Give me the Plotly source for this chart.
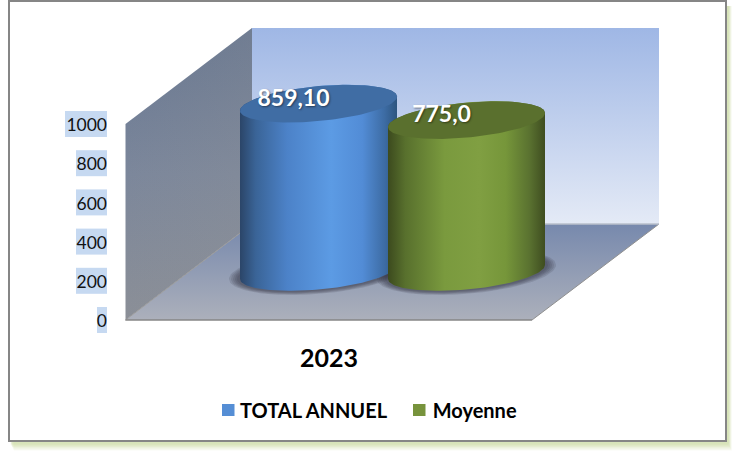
import numpy as np
import plotly.graph_objects as go

# ---- data ----
series_names = ["TOTAL ANNUEL", "Moyenne"]
series_values = [859.10, 775.0]
value_labels = ["859,10", "775,0"]
category_labels = ["2023"]
value_ticks = [0, 200, 400, 600, 800, 1000]

# ---- styles / projection ----
W, H = 735, 459
Y0_PX, PX_PER_UNIT = 320.0, 0.196
FONT = "Lato"


def v(px):
    """pixel row -> value axis units"""
    return (Y0_PX - px) / PX_PER_UNIT


def dv(px):
    return px / PX_PER_UNIT


RX, RY, TILT = 78.5, 17.5, 7.0
BASE = dv(48)  # front-plane lift of the cylinder base centre
centers = [318.5, 466.5]
side_stops = [
    [[0, "#2b4568"], [0.10, "#3a6497"], [0.30, "#4c82c8"], [0.58, "#5c9be4"],
     [0.78, "#528cd6"], [0.92, "#3d6ca4"], [1, "#2d5580"]],
    [[0, "#3c4a1e"], [0.11, "#58702d"], [0.36, "#7a9a3e"], [0.58, "#809f42"],
     [0.75, "#76963a"], [0.90, "#5a7230"], [1, "#3f4d20"]],
]
top_colors = ["#406da4", "#5a702e"]
legend_colors = ["#558ed5", "#77933c"]
swatch_left = [222, 413]

fig = go.Figure()


def poly(xs, ys, grad=None, color=None):
    kw = dict(x=list(xs), y=list(ys), mode="lines", line=dict(width=0), fill="toself",
              hoverinfo="skip", showlegend=False)
    if grad is not None:
        kw["fillgradient"] = grad
    else:
        kw["fillcolor"] = color
    fig.add_trace(go.Scatter(**kw))


def ellipse_pts(cx, cy, rx, ry, tilt, t):
    return cx + rx * np.cos(t), cy + dv(ry) * np.sin(t) + dv(tilt) * np.cos(t)


# back wall
poly([252, 659, 659, 252], [v(28), v(28), v(224), v(224)],
     grad=dict(type="vertical", colorscale=[[0, "#e4eaf6"], [1, "#9fb7e5"]], start=v(224), stop=v(28)))
# left wall
poly([125.5, 252, 252, 125.5], [v(124), v(28), v(224), v(320)],
     grad=dict(type="vertical", colorscale=[[0, "#8b8f97"], [0.5, "#7c879b"], [1, "#667691"]], start=v(320), stop=v(28)))
poly([125.5, 252, 252, 125.5], [v(124), v(28), v(224), v(320)],
     grad=dict(type="horizontal", colorscale=[[0, "rgba(150,150,150,0)"], [1, "rgba(150,150,150,0.22)"]], start=125.5, stop=252))
# floor
poly([125.5, 532, 659, 252], [v(320), v(320), v(224), v(224)],
     grad=dict(type="vertical", colorscale=[[0, "#acb0bb"], [1, "#7789ad"]], start=v(320), stop=v(224)))
for xs, ys, c, w in [
    ([125.5, 252], [v(320), v(224)], "#9a9a9a", 1),
    ([532, 659], [v(320), v(224)], "#8f8f8f", 1),
    ([125.5, 532], [v(320), v(320)], "#868686", 1.5),
    ([252, 659], [v(224), v(224)], "#b9bfcb", 1.5),
]:
    fig.add_trace(go.Scatter(x=xs, y=ys, mode="lines", line=dict(color=c, width=w),
                             hoverinfo="skip", showlegend=False))

t_full = np.linspace(0, 2 * np.pi, 121)
# soft base shadows
for cx in centers:
    for grow in [11, 9, 7, 5, 3]:
        ex, ey = ellipse_pts(cx, BASE, RX + grow, RY + grow * 0.4, TILT, t_full)
        poly(ex, ey, color="rgba(40,45,60,0.14)")

# cylinders
for cx, val, stops, top in zip(centers, series_values, side_stops, top_colors):
    cy = BASE + val
    t_lower = np.linspace(np.pi, 2 * np.pi, 81)
    bx, by = ellipse_pts(cx, BASE, RX, RY, TILT, t_lower)
    t_upper = np.linspace(0, np.pi, 81)
    ux, uy = ellipse_pts(cx, cy, RX, RY, TILT, t_upper)
    poly(np.r_[bx, ux], np.r_[by, uy],
         grad=dict(type="horizontal", colorscale=stops, start=cx - RX, stop=cx + RX))
    ex, ey = ellipse_pts(cx, cy, RX, RY, TILT, t_full)
    poly(ex, ey, color=top)

# value labels
for cx, val, lab in zip(centers, series_values, value_labels):
    fig.add_trace(go.Scatter(
        x=[cx - 25], y=[BASE + val + dv(3.5)], mode="text", text=[lab], textposition="middle center",
        textfont=dict(family=FONT, size=23, color="white", weight="bold", shadow="1px 1px 2px rgba(0,0,0,0.45)"),
        hoverinfo="skip", showlegend=False))

# legend entries (swatches drawn tight to the text below)
for name in series_names:
    fig.add_trace(go.Scatter(x=[None], y=[None], mode="markers", name=name,
                             marker=dict(symbol="square", size=12, color="rgba(0,0,0,0)")))

shapes = []
# frame shadow
for i, a in enumerate([0.1, 0.14, 0.18, 0.22, 0.27, 0.32]):
    g = 8 - i
    shapes.append(dict(type="rect", xref="paper", yref="paper", layer="below",
                       x0=(9 + g * 0.6) / W, x1=(727 + g * 0.6) / W,
                       y0=1 - (441 + g * 1.2) / H, y1=1 - 6 / H,
                       line=dict(width=0), fillcolor=f"rgba(205,220,165,{a})"))
shapes.append(dict(type="rect", xref="paper", yref="paper", layer="below",
                   x0=9 / W, x1=726 / W, y0=1 - 441 / H, y1=1 - 1 / H,
                   fillcolor="white", line=dict(color="#868686", width=2)))
# highlighted tick labels
for tick, lab_w in zip(value_ticks, [10, 31, 31, 31, 31, 42]):
    shapes.append(dict(type="rect", xref="x", yref="y", layer="below",
                       x0=107 - lab_w, x1=107, y0=tick - dv(13), y1=tick + dv(13),
                       fillcolor="#c6d9f1", line=dict(width=0)))
# legend swatches
for left, col in zip(swatch_left, legend_colors):
    shapes.append(dict(type="rect", xref="paper", yref="paper", layer="above",
                       x0=left / W, x1=(left + 12.5) / W, y0=1 - 416 / H, y1=1 - 404 / H,
                       fillcolor=col, line=dict(width=0)))

fig.update_layout(
    width=W, height=H, autosize=False,
    margin=dict(l=0, r=0, t=0, b=0),
    paper_bgcolor="white", plot_bgcolor="rgba(0,0,0,0)",
    font=dict(family=FONT, color="#111111"),
    shapes=shapes,
    xaxis=dict(range=[0, W], anchor="free", position=1 - Y0_PX / H, tickvals=[329],
               ticktext=category_labels, ticks="outside", ticklen=16, tickcolor="rgba(0,0,0,0)",
               showgrid=False, zeroline=False, showline=False,
               tickfont=dict(family=FONT, size=25, color="#000000", weight="bold")),
    yaxis=dict(range=[v(H), v(0)], anchor="free", position=107 / W, tickvals=value_ticks,
               ticks="", showgrid=False, zeroline=False, showline=False, ticklabelshift=1,
               tickfont=dict(family=FONT, size=17.5, color="#111111")),
    legend=dict(orientation="h", x=200 / W, xanchor="left", y=1 - 410 / H, yanchor="middle",
                font=dict(family=FONT, size=20, color="#000000", weight="bold"),
                bgcolor="rgba(0,0,0,0)", itemclick=False, itemdoubleclick=False),
)

fig.write_html("out.html", config=dict(displayModeBar=False),
               post_script="document.body.style.margin='0';")
